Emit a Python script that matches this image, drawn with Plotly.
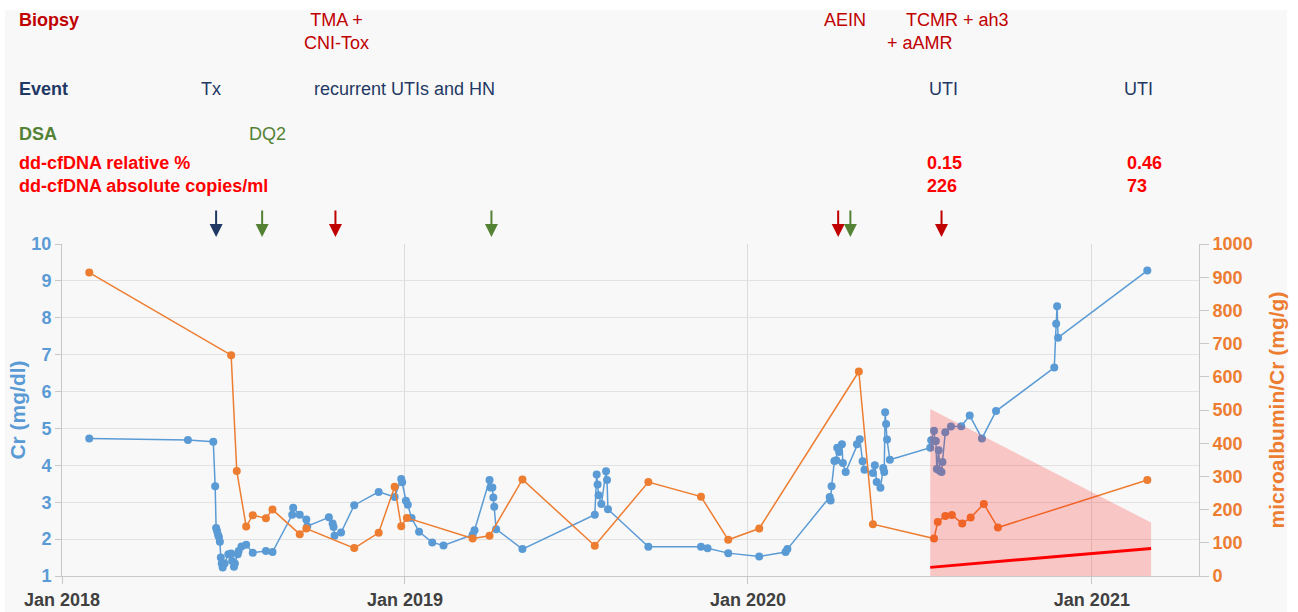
import plotly.graph_objects as go

# serum creatinine (mg/dl)
cr_dates = [
    "2018-01-30", "2018-05-15", "2018-06-11", "2018-06-13", "2018-06-14", "2018-06-15",
    "2018-06-16", "2018-06-17", "2018-06-18", "2018-06-19", "2018-06-20", "2018-06-21",
    "2018-06-23", "2018-06-27", "2018-06-30", "2018-07-01", "2018-07-03", "2018-07-04",
    "2018-07-07", "2018-07-08", "2018-07-11", "2018-07-16", "2018-07-23", "2018-08-06",
    "2018-08-13", "2018-09-03", "2018-09-04", "2018-09-11", "2018-09-18", "2018-09-19",
    "2018-10-12", "2018-10-16", "2018-10-17", "2018-10-18", "2018-10-25", "2018-11-08",
    "2018-12-04", "2018-12-21", "2018-12-28", "2018-12-29", "2019-01-02", "2019-01-04",
    "2019-01-08", "2019-01-16", "2019-01-30", "2019-02-11", "2019-03-14", "2019-03-16",
    "2019-04-01", "2019-04-02", "2019-04-04", "2019-04-05", "2019-04-06", "2019-04-08",
    "2019-05-06", "2019-07-22", "2019-07-24", "2019-07-25", "2019-07-26", "2019-07-29",
    "2019-08-03", "2019-08-04", "2019-08-05", "2019-09-17", "2019-11-12", "2019-11-19",
    "2019-12-11", "2020-01-13", "2020-02-10", "2020-02-12", "2020-03-28", "2020-03-29",
    "2020-03-30", "2020-04-02", "2020-04-04", "2020-04-05", "2020-04-07", "2020-04-10",
    "2020-04-11", "2020-04-14", "2020-04-26", "2020-04-29", "2020-05-02", "2020-05-04",
    "2020-05-13", "2020-05-15", "2020-05-17", "2020-05-21", "2020-05-24", "2020-05-25",
    "2020-05-26", "2020-05-27", "2020-05-28", "2020-05-31", "2020-07-13", "2020-07-14",
    "2020-07-17", "2020-07-18", "2020-07-19", "2020-07-20", "2020-07-22", "2020-07-23",
    "2020-07-25", "2020-07-26", "2020-07-29", "2020-08-04", "2020-08-15", "2020-08-24",
    "2020-09-06", "2020-09-21", "2020-11-22", "2020-11-24", "2020-11-25", "2020-11-26",
    "2021-03-01",
]
cr_values = [
    4.73, 4.69, 4.64, 3.43, 2.30, 2.22,
    2.12, 2.06, 1.93, 1.50, 1.34, 1.23,
    1.34, 1.59, 1.61, 1.41, 1.25, 1.34,
    1.59, 1.68, 1.80, 1.85, 1.63, 1.68,
    1.65, 2.66, 2.85, 2.66, 2.53, 2.35,
    2.59, 2.42, 2.33, 2.09, 2.18, 2.92,
    3.28, 3.14, 3.63, 3.54, 3.04, 2.93,
    2.57, 2.20, 1.91, 1.83, 2.12, 2.24,
    3.60, 3.40, 3.40, 3.13, 2.88, 2.27,
    1.73, 2.66, 3.75, 3.48, 3.19, 2.95,
    3.84, 3.60, 2.81, 1.79, 1.79, 1.75,
    1.62, 1.53, 1.65, 1.73, 3.14, 3.05,
    3.43, 4.12, 4.14, 4.48, 4.36, 4.57,
    4.06, 3.82, 4.57, 4.71, 4.11, 3.88,
    3.79, 4.00, 3.55, 3.39, 3.93, 3.82,
    5.44, 5.12, 4.70, 4.15, 4.48, 4.68,
    4.94, 4.66, 4.66, 3.90, 4.41, 3.85,
    3.82, 4.09, 4.90, 5.05, 5.06, 5.35,
    4.73, 5.47, 6.65, 7.84, 8.31, 7.46,
    9.28,
]

# microalbumin / creatinine ratio (mg/g)
alb_dates = [
    "2018-01-30", "2018-06-30", "2018-07-06", "2018-07-16", "2018-07-23", "2018-08-06",
    "2018-08-13", "2018-09-11", "2018-09-18", "2018-11-08", "2018-12-04", "2018-12-21",
    "2018-12-28", "2019-01-03", "2019-03-14", "2019-04-01", "2019-05-06", "2019-07-22",
    "2019-09-17", "2019-11-12", "2019-12-11", "2020-01-13", "2020-04-28", "2020-05-13",
    "2020-07-17", "2020-07-21", "2020-07-29", "2020-08-05", "2020-08-16", "2020-08-25",
    "2020-09-08", "2020-09-23", "2021-03-01",
]
alb_values = [
    914, 665, 316, 149, 183, 174,
    200, 126, 143, 84, 130, 269,
    150, 175, 113, 121, 291, 91,
    283, 239, 109, 143, 616, 156,
    113, 163, 181, 184, 158, 176,
    217, 146, 289,
]

# dd-cfDNA band + trend (right axis)
band_dates = ["2020-07-13", "2021-03-05"]
band_upper = [503, 161]
band_trend = [26, 83]

# event arrows above the plot
arrow_dates = ["2018-06-14", "2018-08-02", "2018-10-19", "2019-04-03",
               "2020-04-06", "2020-04-19", "2020-07-25"]
arrow_kinds = ["event", "dsa", "biopsy", "dsa", "biopsy", "dsa", "biopsy"]

BLUE = "#5b9bd5"
ORANGE = "#ed7d31"
DARKRED = "#c00000"
NAVY = "#1f3864"
GREEN = "#548235"
RED = "#ff0000"
kind_color = {"event": NAVY, "dsa": GREEN, "biopsy": DARKRED}

FONT = "Arial, 'Liberation Sans', sans-serif"

# plot area in pixels
L, R, T, B = 62, 1199, 244, 576


def px(x):
    return (x - L) / (R - L)


def py(y):
    return (B - y) / (B - T)


fig = go.Figure()

fig.add_trace(go.Scatter(x=cr_dates, y=cr_values, mode="lines+markers",
                         line=dict(color=BLUE, width=1.5),
                         marker=dict(size=8, color=BLUE), yaxis="y"))
fig.add_trace(go.Scatter(x=alb_dates, y=alb_values, mode="lines+markers",
                         line=dict(color=ORANGE, width=1.5),
                         marker=dict(size=8, color=ORANGE), yaxis="y2"))
fig.add_trace(go.Scatter(x=band_dates, y=band_upper, mode="lines", fill="tozeroy",
                         fillcolor="rgba(255,0,0,0.2)", line=dict(width=0),
                         yaxis="y2", hoverinfo="skip"))
fig.add_trace(go.Scatter(x=band_dates, y=band_trend, mode="lines",
                         line=dict(color=RED, width=3), yaxis="y2"))

# gray panel behind everything
fig.add_shape(type="rect", xref="paper", yref="paper", layer="below",
              x0=px(5), x1=px(1287), y0=py(700), y1=py(10),
              fillcolor="#f8f8f8", line_width=0)

for d, k in zip(arrow_dates, arrow_kinds):
    fig.add_annotation(x=d, y=py(237), xref="x", yref="paper", text="",
                       showarrow=True, ax=0, ay=-28, arrowhead=2, arrowsize=1.3,
                       arrowwidth=2, arrowcolor=kind_color[k])

# header text rows
header = [
    ("<b>Biopsy</b>", 17, 20, DARKRED, "left"),
    ("TMA +<br>CNI-Tox", 336, 31, DARKRED, "center"),
    ("AEIN", 822, 20, DARKRED, "left"),
    ("TCMR + ah3", 904, 20, DARKRED, "left"),
    ("+ aAMR", 885, 43, DARKRED, "left"),
    ("<b>Event</b>", 17, 89, NAVY, "left"),
    ("Tx", 199, 89, NAVY, "left"),
    ("recurrent UTIs and HN", 312, 89, NAVY, "left"),
    ("UTI", 927, 89, NAVY, "left"),
    ("UTI", 1122, 89, NAVY, "left"),
    ("<b>DSA</b>", 17, 134, GREEN, "left"),
    ("DQ2", 247, 134, GREEN, "left"),
    ("<b>dd-cfDNA relative %</b>", 17, 163, RED, "left"),
    ("<b>dd-cfDNA absolute copies/ml</b>", 17, 186, RED, "left"),
    ("<b>0.15</b>", 925, 163, RED, "left"),
    ("<b>226</b>", 925, 186, RED, "left"),
    ("<b>0.46</b>", 1125, 163, RED, "left"),
    ("<b>73</b>", 1125, 186, RED, "left"),
]
for txt, x, y, col, anc in header:
    fig.add_annotation(text=txt, x=px(x), y=py(y), xref="paper", yref="paper",
                       xanchor=anc, yanchor="middle", showarrow=False, align="center",
                       font=dict(size=18, color=col, family=FONT))

fig.update_layout(
    width=1298, height=612,
    margin=dict(l=L, r=1298 - R, t=T, b=612 - B, autoexpand=False),
    paper_bgcolor="white", plot_bgcolor="#f8f8f8",
    showlegend=False,
    font=dict(family=FONT),
    xaxis=dict(type="date", range=["2018-01-01", "2021-04-25"], automargin=False,
               tick0="2018-01-01", dtick="M12", tickformat="%b %Y",
               showgrid=True, gridcolor="#dcdcdc", zeroline=False,
               showline=True, linecolor="#c8c8c8",
               ticks="outside", ticklen=7, tickcolor="#c8c8c8",
               tickfont=dict(size=18, color="#404040", weight="bold")),
    yaxis=dict(range=[1, 10], dtick=1, showgrid=True, gridcolor="#e2e2e2",
               automargin=False, zeroline=False, showline=True, linecolor="#c8c8c8",
               ticks="outside", ticklen=6, tickcolor="#c8c8c8",
               tickfont=dict(size=18, color=BLUE, weight="bold"),
               title=dict(text="Cr (mg/dl)", standoff=0,
                          font=dict(size=21, color=BLUE, weight="bold"))),
    yaxis2=dict(range=[0, 1000], dtick=100, overlaying="y", side="right",
                automargin=False, showgrid=False, zeroline=False,
                showline=True, linecolor="#c8c8c8",
                ticks="outside", ticklen=9, tickcolor="#c8c8c8",
                tickfont=dict(size=18, color=ORANGE, weight="bold"),
                title=dict(text="microalbumin/Cr (mg/g)", standoff=17,
                           font=dict(size=21, color=ORANGE, weight="bold"))),
)

fig.write_html("out.html", config={"displayModeBar": False},
               post_script="document.body.style.margin = '0';")
